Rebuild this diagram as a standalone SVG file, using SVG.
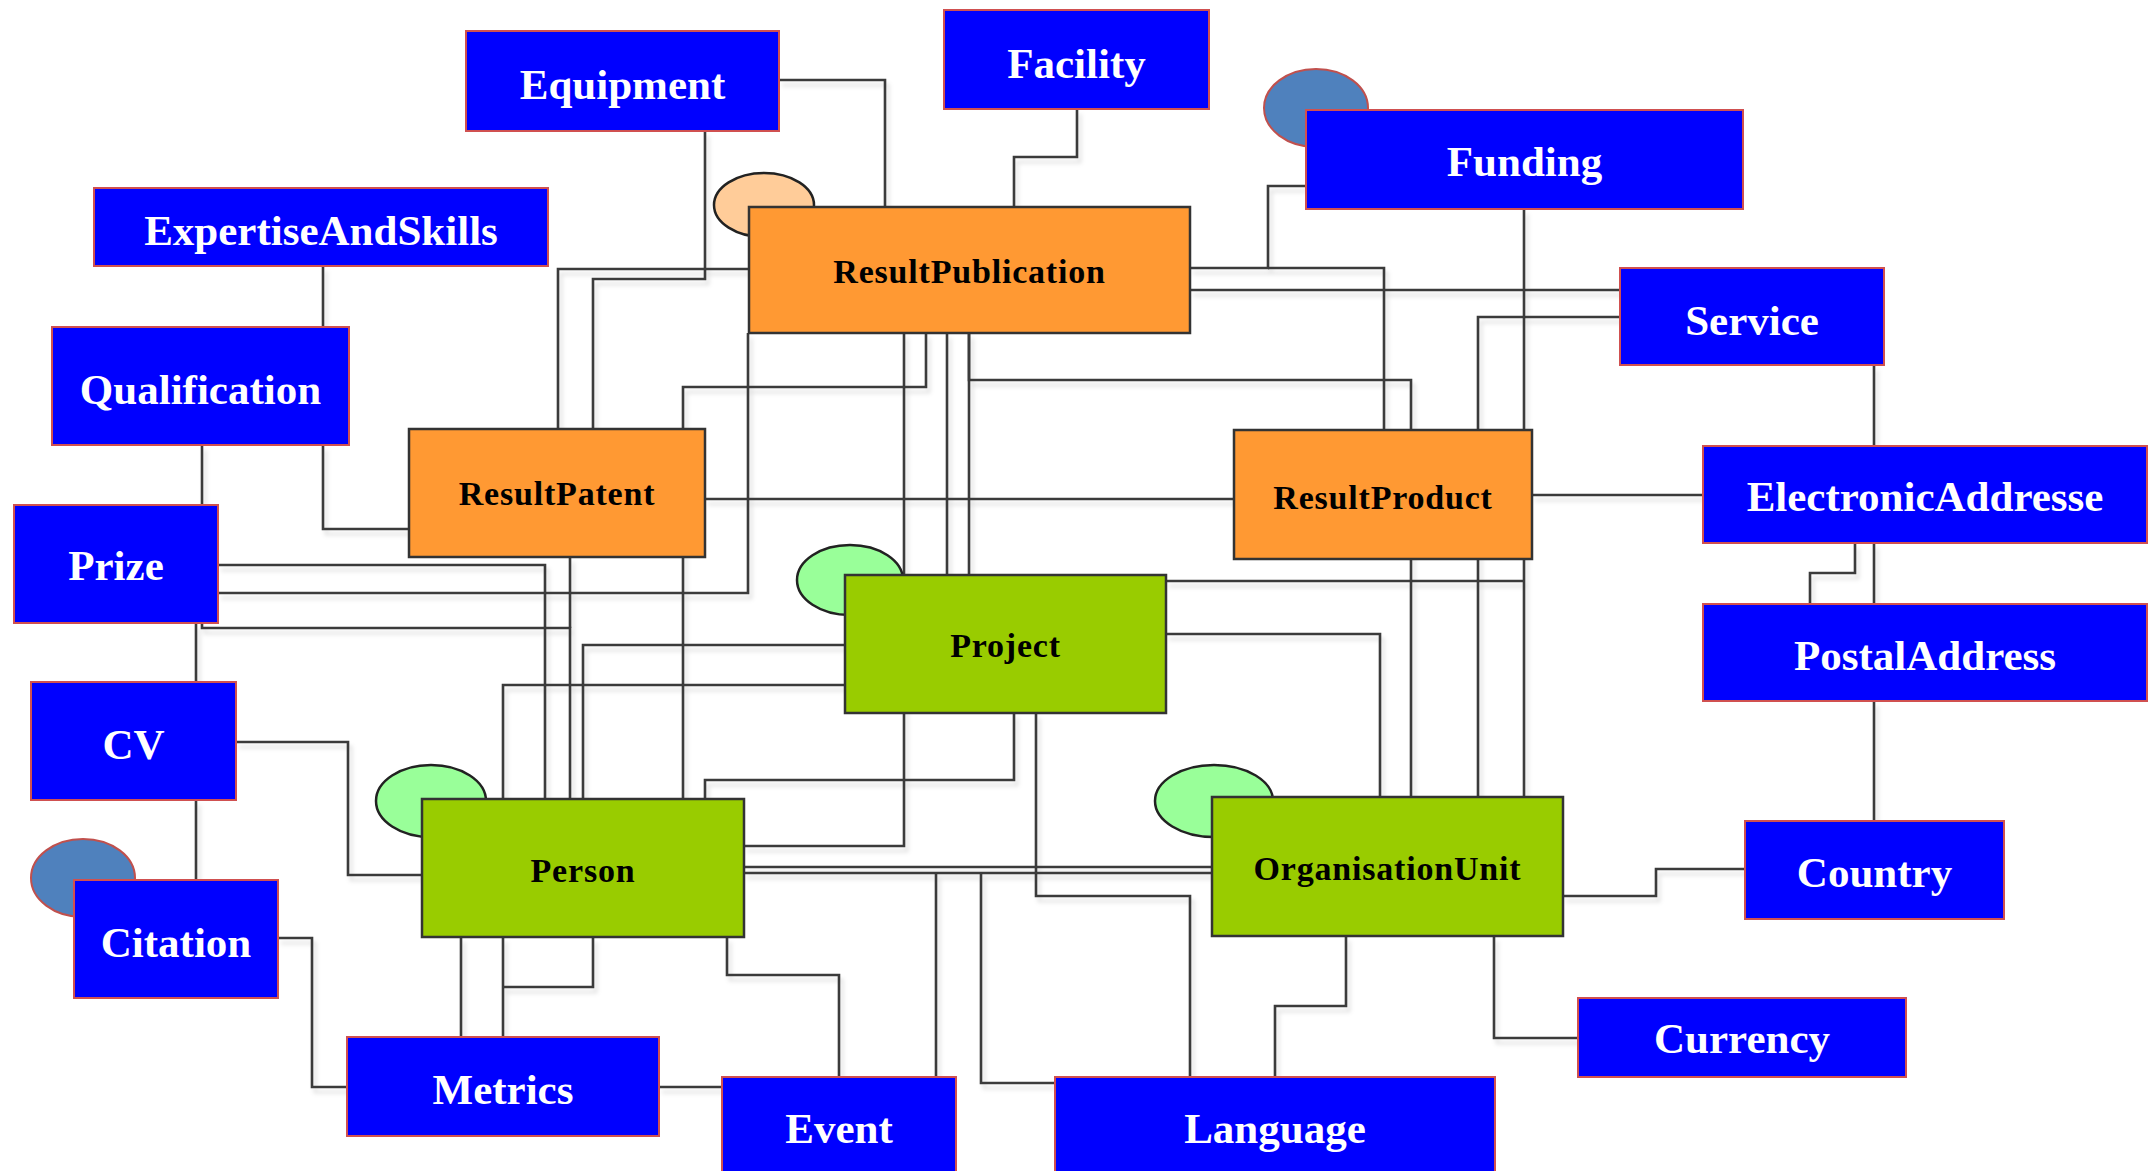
<svg xmlns="http://www.w3.org/2000/svg" width="2154" height="1171" viewBox="0 0 2154 1171">
<defs>
<filter id="sh" x="-5%" y="-5%" width="110%" height="110%">
<feDropShadow dx="3" dy="5" stdDeviation="2" flood-color="#000" flood-opacity="0.13"/>
</filter>
<style>
.bg{fill:#ffffff}
.conn path{fill:none;stroke:#3a3a3a;stroke-width:2.6}
.blue rect{fill:#0000ff;stroke:#d05050;stroke-width:2}
.blue text{fill:#ffffff;font-family:"Liberation Serif","Times New Roman",serif;font-weight:bold;font-size:43px;text-anchor:middle}
.orange rect{fill:#ff9933;stroke:#333333;stroke-width:2.5}
.green rect{fill:#99cc00;stroke:#333333;stroke-width:2.5}
.ent text{fill:#000000;font-family:"Liberation Serif","Times New Roman",serif;font-weight:bold;font-size:34px;letter-spacing:0.8px;text-anchor:middle}
.cb{fill:#4f81bd;stroke:#c0504d;stroke-width:2}
.cg{fill:#99ff99;stroke:#222222;stroke-width:2.5}
.cp{fill:#ffcc99;stroke:#222222;stroke-width:2.5}
</style>
</defs>
<rect class="bg" x="0" y="0" width="2154" height="1171"/>
<g id="connectors" class="conn" filter="url(#sh)">
<path d="M779,80 H885 V207"/>
<path d="M705,131 V279 H593 V429"/>
<path d="M749,269 H558 V429"/>
<path d="M1077,109 V157 H1014 V207"/>
<path d="M1306,186 H1268 V268 H1190"/>
<path d="M1268,268 H1384 V430"/>
<path d="M1190,290 H1620"/>
<path d="M1620,317 H1478 V797"/>
<path d="M1524,209 V797"/>
<path d="M1524,581 H1166"/>
<path d="M969,333 V380 H1411 V797"/>
<path d="M969,333 V575"/>
<path d="M947,333 V575"/>
<path d="M904,333 V846 H744"/>
<path d="M926,333 V387 H683 V799"/>
<path d="M218,593 H748 V333"/>
<path d="M218,565 H545 V799"/>
<path d="M202,623 V628 H570 V799"/>
<path d="M570,557 V628"/>
<path d="M845,645 H583 V799"/>
<path d="M845,685 H503 V799"/>
<path d="M1014,713 V780 H705 V799"/>
<path d="M1036,713 V896 H1190 V1077"/>
<path d="M1166,634 H1380 V797"/>
<path d="M705,499 H1234"/>
<path d="M1532,495 H1703"/>
<path d="M323,266 V327"/>
<path d="M202,445 V505"/>
<path d="M323,445 V529 H409"/>
<path d="M196,623 V682"/>
<path d="M196,800 V880"/>
<path d="M236,742 H348 V875 H422"/>
<path d="M278,938 H312 V1087 H347"/>
<path d="M461,937 V1037"/>
<path d="M503,937 V1037"/>
<path d="M593,937 V987 H503"/>
<path d="M659,1087 H722"/>
<path d="M727,937 V975 H839 V1077"/>
<path d="M744,867 H1212"/>
<path d="M744,873 H1212"/>
<path d="M936,873 V1077"/>
<path d="M981,873 V1083 H1055"/>
<path d="M1346,936 V1006 H1275 V1077"/>
<path d="M1494,936 V1038 H1578"/>
<path d="M1563,896 H1656 V869 H1745"/>
<path d="M1874,701 V821"/>
<path d="M1874,543 V604"/>
<path d="M1855,543 V573 H1810 V604"/>
<path d="M1874,365 V446"/>
</g>
<g id="node-equipment" class="blue"><rect x="466" y="31" width="313" height="100"/><text x="622.5" y="99">Equipment</text></g>
<g id="node-facility" class="blue"><rect x="944" y="10" width="265" height="99"/><text x="1076.5" y="78">Facility</text></g>
<g id="node-funding" class="blue"><ellipse class="cb" cx="1316" cy="108" rx="52" ry="39"/><rect x="1306" y="110" width="437" height="99"/><text x="1524.5" y="176">Funding</text></g>
<g id="node-expertise" class="blue"><rect x="94" y="188" width="454" height="78"/><text x="321" y="245">ExpertiseAndSkills</text></g>
<g id="node-qualification" class="blue"><rect x="52" y="327" width="297" height="118"/><text x="200.5" y="404">Qualification</text></g>
<g id="node-prize" class="blue"><rect x="14" y="505" width="204" height="118"/><text x="116" y="580">Prize</text></g>
<g id="node-cv" class="blue"><rect x="31" y="682" width="205" height="118"/><text x="133.5" y="759">CV</text></g>
<g id="node-citation" class="blue"><ellipse class="cb" cx="83" cy="878" rx="52" ry="39"/><rect x="74" y="880" width="204" height="118"/><text x="176" y="957">Citation</text></g>
<g id="node-metrics" class="blue"><rect x="347" y="1037" width="312" height="99"/><text x="503" y="1104">Metrics</text></g>
<g id="node-event" class="blue"><rect x="722" y="1077" width="234" height="100"/><text x="839" y="1143">Event</text></g>
<g id="node-language" class="blue"><rect x="1055" y="1077" width="440" height="100"/><text x="1275" y="1143">Language</text></g>
<g id="node-currency" class="blue"><rect x="1578" y="998" width="328" height="79"/><text x="1742" y="1053">Currency</text></g>
<g id="node-country" class="blue"><rect x="1745" y="821" width="259" height="98"/><text x="1874.5" y="887">Country</text></g>
<g id="node-postaladdress" class="blue"><rect x="1703" y="604" width="444" height="97"/><text x="1925" y="670">PostalAddress</text></g>
<g id="node-electronicaddresse" class="blue"><rect x="1703" y="446" width="444" height="97"/><text x="1925" y="511">ElectronicAddresse</text></g>
<g id="node-service" class="blue"><rect x="1620" y="268" width="264" height="97"/><text x="1752" y="335">Service</text></g>
<g id="node-resultpublication" class="orange ent"><ellipse class="cp" cx="764" cy="205" rx="50" ry="32"/><rect x="749" y="207" width="441" height="126"/><text x="969.5" y="283">ResultPublication</text></g>
<g id="node-resultpatent" class="orange ent"><rect x="409" y="429" width="296" height="128"/><text x="557" y="505">ResultPatent</text></g>
<g id="node-resultproduct" class="orange ent"><rect x="1234" y="430" width="298" height="129"/><text x="1383" y="509">ResultProduct</text></g>
<g id="node-project" class="green ent"><ellipse class="cg" cx="850" cy="580" rx="53" ry="35"/><rect x="845" y="575" width="321" height="138"/><text x="1005.5" y="657">Project</text></g>
<g id="node-person" class="green ent"><ellipse class="cg" cx="431" cy="801" rx="55" ry="36"/><rect x="422" y="799" width="322" height="138"/><text x="583" y="882">Person</text></g>
<g id="node-organisationunit" class="green ent"><ellipse class="cg" cx="1214" cy="801" rx="59" ry="36"/><rect x="1212" y="797" width="351" height="139"/><text x="1387.5" y="880">OrganisationUnit</text></g>
</svg>
